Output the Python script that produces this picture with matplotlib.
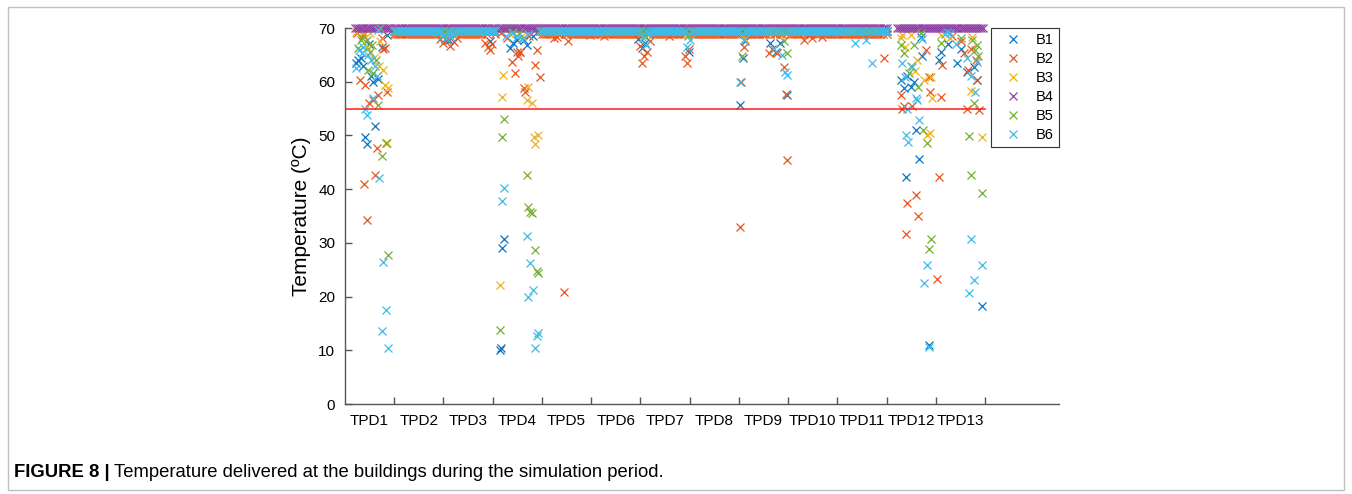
import numpy as np
import matplotlib
matplotlib.use('Agg')
import matplotlib.pyplot as plt
from matplotlib.patches import Rectangle

plt.rcParams['font.family'] = ['Liberation Sans', 'DejaVu Sans']

# edificios e cores (paleta padrão do MATLAB)
buildings = ['B1', 'B2', 'B3', 'B4', 'B5', 'B6']
colors = ['#0a74c0', '#e8561f', '#f0b21c', '#9140a6', '#72b032', '#3cbcec']
tpd_labels = ['TPD%d' % i for i in range(1, 14)]
hours_per_tpd = 24
t_min = 55.0

# horas em que a rede entrega a temperatura nominal (todos os edificios)
band_ranges = [(24, 73), (95, 264)]
# B4 fica no nivel nominal também nos dias de baixa demanda
b4_extra = [(5, 22), (75, 94), (269, 311)]
# nivel nominal de cada edificio
band_level = [69.4, 68.9, 69.4, 70.0, 69.4, 69.5]

# pontos fora do nivel nominal: hora, temperatura
b1_h = [5.5, 6.3, 7.8, 8.8, 9.8, 10.7, 11.5, 12.5, 13.7, 14.6, 16.1, 18.0, 20.3,
        48.5, 50.5, 70.5,
        75.6, 75.8, 76.4, 77.6, 80.5, 82.1, 83.8, 85.4, 87.0, 88.6, 91.5,
        143.0, 144.7, 146.0, 167.5,
        192.7, 193.8, 195.0, 207.3, 210.0, 212.2, 215.5,
        270.9, 272.6, 273.2, 274.0, 276.0, 277.3, 278.1, 279.8, 280.6, 281.0, 284.8,
        289.5, 290.3, 294.0, 298.4, 300.0, 303.3, 306.5, 308.1, 310.6]
b1_t = [63.5, 64.0, 64.4, 62.9, 49.7, 48.4, 67.0, 61.0, 60.0, 51.8, 60.5, 66.5, 68.7,
        68.0, 67.8, 67.5,
        10.0, 10.4, 29.0, 30.8, 66.3, 67.2, 67.8, 65.6, 67.8, 66.8, 68.5,
        68.0, 66.2, 67.3, 65.6,
        55.7, 64.5, 67.5, 67.2, 65.5, 67.2, 57.5,
        60.3, 58.8, 42.3, 61.0, 59.1, 60.0, 51.1, 45.7, 68.4, 64.7, 10.9,
        64.0, 65.6, 67.0, 63.4, 66.0, 61.9, 62.8, 60.3, 18.3]

b2_h = [5.9, 7.3, 8.8, 9.3, 9.8, 10.7, 11.7, 13.7, 14.6, 15.5, 16.0, 17.9, 18.6, 19.5, 20.3,
        46.3, 47.8, 49.6, 51.2, 53.2, 54.6, 68.3, 69.8, 70.7, 71.5,
        76.0, 78.9, 81.3, 82.9, 83.8, 84.5, 85.4, 87.0, 87.8, 89.5, 92.7, 93.5, 94.8,
        102.0, 103.3, 106.5, 108.9, 119.5, 126.0, 143.9, 144.7, 145.5, 147.2, 148.8, 158.0,
        165.9, 166.7, 167.5,
        192.7, 193.0, 194.3, 206.5, 208.0, 210.6, 213.8, 215.0, 215.5, 223.6, 227.6, 232.5, 262.6,
        270.9, 271.6, 272.6, 273.2, 274.1, 276.5, 278.1, 279.3, 283.0, 284.6, 285.0, 288.4,
        289.5, 290.3, 291.1, 296.0, 300.0, 301.6, 303.3, 303.8, 305.0, 307.5, 308.1, 308.9]
b2_t = [69.1, 60.3, 68.7, 41.0, 59.4, 34.3, 56.0, 56.6, 42.6, 47.6, 57.5, 68.1, 66.0, 66.2, 58.1,
        68.0, 67.2, 67.8, 66.6, 67.4, 68.2, 67.2, 66.5, 65.9, 67.0,
        69.0, 68.1, 63.7, 61.6, 65.6, 64.7, 65.6, 58.8, 58.1, 68.5, 63.1, 65.9, 60.9,
        68.1, 68.4, 20.9, 67.6, 68.7, 68.5, 66.6, 63.4, 64.7, 65.6, 67.5, 68.6,
        64.7, 63.4, 66.0,
        33.0, 60.0, 66.5, 65.3, 66.0, 65.3, 62.8, 57.8, 45.4, 67.8, 68.1, 68.4, 64.4,
        57.5, 55.0, 55.4, 31.6, 37.4, 55.5, 38.9, 35.0, 65.9, 60.9, 58.1, 23.2,
        42.3, 57.1, 63.1, 68.5, 67.5, 65.3, 55.0, 62.2, 66.0, 64.0, 60.3, 54.7]

b3_h = [5.6, 8.1, 8.9, 10.5, 12.2, 14.0, 16.5, 17.1, 18.5, 19.5, 19.8, 20.5, 21.0,
        44.8, 52.0,
        75.6, 76.4, 77.2, 80.0, 86.5, 88.6, 89.4, 91.1, 92.0, 92.7, 94.3,
        146.8, 195.1,
        270.9, 271.6, 273.0, 275.7, 278.0, 279.0, 282.2, 283.5, 285.1, 285.4, 286.0,
        290.3, 295.1, 304.9, 305.7, 310.6]
b3_t = [69.3, 69.0, 69.3, 66.5, 69.0, 64.5, 63.0, 67.5, 62.2, 59.4, 48.5, 48.5, 58.8,
        69.2, 69.0,
        22.2, 57.2, 61.3, 69.0, 68.5, 56.6, 59.1, 56.0, 49.7, 48.4, 50.1,
        69.0, 68.0,
        68.1, 68.7, 66.5, 68.7, 62.0, 64.0, 60.3, 50.0, 50.5, 60.9, 57.0,
        68.7, 68.1, 58.3, 68.4, 49.8]

b4_h = []
b4_t = []

b5_h = [6.3, 7.8, 8.1, 10.6, 11.2, 12.2, 13.0, 13.5, 15.0, 16.1, 17.1, 17.9, 20.0, 20.8,
        46.0, 50.0,
        75.6, 76.4, 77.6, 82.0, 85.0, 88.6, 89.4, 90.2, 91.1, 92.7, 93.8, 94.3,
        145.5, 167.0,
        193.5, 214.0, 215.5,
        270.9, 272.6, 274.9, 276.0, 277.3, 279.5, 280.6, 281.9, 283.5, 284.6, 285.4,
        290.3, 300.0, 304.1, 304.9, 305.7, 306.5, 307.3, 308.1, 308.5, 310.6]
b5_t = [66.2, 67.8, 68.1, 67.8, 62.2, 65.6, 66.8, 61.6, 64.0, 55.7, 70.0, 46.2, 48.5, 27.7,
        69.0, 68.8,
        13.8, 49.7, 53.0, 69.3, 69.0, 42.6, 36.7, 35.8, 35.5, 28.7, 24.8, 24.4,
        68.5, 68.6,
        64.7, 67.5, 65.3,
        66.8, 65.3, 61.6, 63.0, 66.8, 59.0, 69.0, 51.0, 48.6, 28.8, 30.8,
        67.2, 68.1, 49.9, 42.6, 67.8, 56.0, 65.9, 66.8, 64.7, 39.3]

b6_h = [5.5, 6.8, 8.1, 8.9, 9.8, 10.6, 11.2, 12.5, 13.7, 14.6, 15.5, 16.1, 16.6, 17.9,
        18.7, 19.9, 20.8,
        47.5, 49.0, 51.5, 52.5,
        76.4, 77.6, 78.5, 81.5, 84.0, 86.5, 88.6, 89.0, 89.4, 90.2, 91.6, 92.7, 93.8, 94.3,
        145.0, 146.5, 147.5, 166.7, 168.3,
        192.7, 194.5, 209.0, 213.0, 214.6, 215.2, 248.8, 253.7, 256.9,
        271.6, 272.8, 273.2, 274.1, 274.6, 276.5, 278.1, 279.0, 279.8, 281.0, 282.2, 283.8,
        284.6, 292.5, 293.6, 295.0, 298.0, 303.0, 304.1, 304.9, 305.0, 306.5, 307.3, 308.1, 310.6]
b6_t = [62.5, 65.9, 65.3, 66.5, 54.9, 53.8, 65.0, 64.0, 56.9, 62.9, 61.0, 69.6, 42.0, 13.6,
        26.5, 17.5, 10.4,
        68.6, 68.1, 68.4, 68.9,
        37.8, 40.2, 68.6, 69.0, 68.4, 68.0, 31.3, 68.8, 19.9, 26.2, 21.3, 10.4, 12.7, 13.2,
        68.2, 66.8, 68.8, 66.5, 67.8,
        60.0, 67.8, 66.0, 65.0, 61.9, 61.2, 67.2, 67.8, 63.5,
        63.4, 60.9, 50.1, 55.0, 48.8, 62.8, 56.9, 56.6, 52.9, 68.0, 22.5, 25.9,
        10.7, 68.8, 69.3, 69.0, 67.0, 64.5, 20.6, 30.8, 61.0, 23.1, 58.1, 63.7, 25.9]


def serie(h_pts, t_pts, nivel, faixas):
    # horas no nivel nominal, sem as horas que já têm um valor medido
    usadas = set(int(round(h)) for h in h_pts)
    hb = [h for a, b in faixas for h in range(a, b + 1) if h not in usadas]
    x = np.array(hb + list(h_pts), dtype=float)
    y = np.array([nivel] * len(hb) + list(t_pts), dtype=float)
    return x, y


W, H = 1352, 494
fig = plt.figure(figsize=(W / 100, H / 100), dpi=100)
ax = fig.add_axes([345 / W, 1 - 404 / H, (1059 - 345) / W, (404 - 28) / H])

dados = [(b1_h, b1_t), (b2_h, b2_t), (b3_h, b3_t), (b4_h, b4_t), (b5_h, b5_t), (b6_h, b6_t)]
for i, (nome, cor, (hh, tt)) in enumerate(zip(buildings, colors, dados)):
    faixas = band_ranges + (b4_extra if nome == 'B4' else [])
    x, y = serie(hh, tt, band_level[i], faixas)
    ax.plot(x, y, 'x', color=cor, ms=5.5, mew=0.9, ls='none', label=nome, clip_on=False)

n_h = hours_per_tpd * len(tpd_labels)
ax.plot([0, n_h], [t_min, t_min], color='#ff1a1a', lw=1.1, zorder=3)

ax.set_xlim(0, n_h + hours_per_tpd * 1.5)
ax.set_ylim(0, 70)
ax.set_yticks(np.arange(0, 71, 10))
ax.set_xticks(np.arange(hours_per_tpd, n_h + 1, hours_per_tpd))
ax.set_xticklabels([])
ax.set_xticks(np.arange(hours_per_tpd / 2, n_h, hours_per_tpd), minor=True)
ax.set_xticklabels(tpd_labels, minor=True)

for s in ['top', 'right']:
    ax.spines[s].set_visible(False)
for s in ['left', 'bottom']:
    ax.spines[s].set_color('#555555')
    ax.spines[s].set_linewidth(1.0)

ax.tick_params(axis='both', which='major', direction='in', length=5, width=1,
               color='#555555', labelsize=11, pad=7)
ax.tick_params(axis='x', which='minor', length=0, labelsize=11, pad=7)
ax.set_ylabel('Temperature (ºC)', fontsize=15)
ax.yaxis.set_label_coords(-0.048, 0.5)

leg = ax.legend(loc='upper right', bbox_to_anchor=(1.0, 1.0), borderaxespad=0,
                fontsize=10.5, fancybox=False, edgecolor='#333333', framealpha=1,
                handlelength=2.25, handletextpad=0.47, labelspacing=0.34, borderpad=0.36)
leg.get_frame().set_linewidth(0.8)

# moldura e legenda da figura
fig.add_artist(Rectangle((8 / W, 1 - 490 / H), (1344 - 8) / W, (490 - 7) / H,
                         transform=fig.transFigure, fill=False, edgecolor='#c0c0c0', lw=1))
r = fig.canvas.get_renderer()
t1 = fig.text(14 / W, 1 - 477 / H, 'FIGURE 8 |', fontsize=13.3, weight='bold', va='baseline')
bb = t1.get_window_extent(r)
fig.text((bb.x1 + 4) / W, 1 - 477 / H,
         'Temperature delivered at the buildings during the simulation period.',
         fontsize=13.3, va='baseline')

fig.savefig('out.png', dpi=100)
